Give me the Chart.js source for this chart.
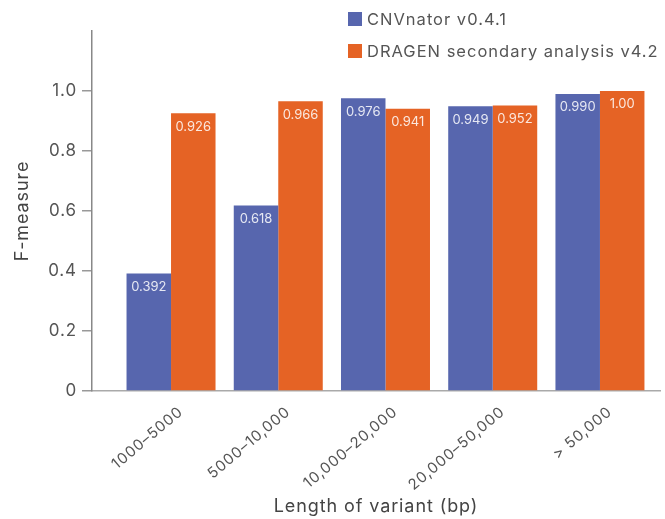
<!DOCTYPE html>
<html>
<head>
<meta charset="utf-8">
<script src="https://cdn.jsdelivr.net/npm/chart.js@4"></script>
<style>
  body { margin: 0; background: #fff; }
  #wrap { position: relative; width: 665px; height: 519px; }
  #legend { position: absolute; left: 348px; top: 5px; font-family: Inter, sans-serif; font-size: 16.5px; letter-spacing: 1px; color: #555; }
  #legend div { display: flex; align-items: center; height: 28px; margin-bottom: 4px; white-space: nowrap; }
  #legend span.box { display: inline-block; width: 14px; height: 14px; margin-right: 5px; }
</style>
</head>
<body>
<div id="wrap">
  <canvas id="fChart" width="665" height="519"></canvas>
  <div id="legend"></div>
</div>
<script>
const categories = ['1000\u20135000', '5000\u201310,000', '10,000\u201320,000', '20,000\u201350,000', '> 50,000'];
const cnvnator = [0.392, 0.618, 0.976, 0.949, 0.990];
const dragen = [0.926, 0.966, 0.941, 0.952, 1.00];
const seriesNames = ['CNVnator v0.4.1', 'DRAGEN secondary analysis v4.2'];
const colors = ['#5766ae', '#e56325'];
const yTicks = [0, 0.2, 0.4, 0.6, 0.8, 1.0];

// html legend, stacked like the reference
const legendEl = document.getElementById('legend');
seriesNames.forEach((name, i) => {
    const row = document.createElement('div');
    row.innerHTML = '<span class="box" style="background:' + colors[i] + '"></span>' + name;
    legendEl.appendChild(row);
});

// the reference type is set a bit looser than plain Inter
const spacing = {
    id: 'spacing',
    beforeLayout(chart) { chart.ctx.letterSpacing = '0.9px'; },
    beforeDraw(chart) { chart.ctx.letterSpacing = '0.9px'; }
};

const barLabels = {
    id: 'barLabels',
    afterDatasetsDraw(chart) {
        const ctx = chart.ctx;
        ctx.save();
        ctx.letterSpacing = '0px';
        ctx.font = '13px Inter, sans-serif';
        ctx.fillStyle = 'rgba(255,255,255,0.85)';
        ctx.textAlign = 'center';
        ctx.textBaseline = 'top';
        chart.data.datasets.forEach((ds, di) => {
            chart.getDatasetMeta(di).data.forEach((bar, i) => {
                const v = ds.data[i].y;
                const txt = v === 1 ? '1.00' : v.toFixed(3);
                ctx.fillText(txt, bar.x, bar.y + 7);
            });
        });
        ctx.restore();
    }
};

const ctx = document.getElementById('fChart').getContext('2d');
const fChart = new Chart(ctx, {
    type: 'bar',
    data: {
        datasets: [{
            label: seriesNames[0],
            data: cnvnator.map((v, i) => ({ x: i, y: v })),
            backgroundColor: colors[0]
        }, {
            label: seriesNames[1],
            data: dragen.map((v, i) => ({ x: i, y: v })),
            backgroundColor: colors[1]
        }]
    },
    options: {
        responsive: false,
        animation: false,
        categoryPercentage: 0.83,
        barPercentage: 1.0,
        layout: { padding: { top: 31, right: 5, left: 8, bottom: 0 } },
        scales: {
            x: {
                type: 'linear',
                offset: false,
                min: -0.737,
                max: 4.56,
                afterBuildTicks: (scale) => {
                    scale.ticks = categories.map((c, i) => ({ value: i }));
                },
                afterFit: (scale) => { scale.height = 128; },
                grid: { display: false, drawTicks: false },
                border: { color: '#aaaaaa', width: 1.5 },
                ticks: {
                    color: '#555555',
                    padding: 12,
                    labelOffset: 10,
                    minRotation: 40,
                    maxRotation: 40,
                    font: { family: 'Inter', size: 15 },
                    callback: (v) => categories[v]
                },
                title: {
                    display: true,
                    text: 'Length of variant (bp)',
                    color: '#444444',
                    padding: { top: 0, bottom: 2 },
                    font: { family: 'Inter', size: 18 }
                }
            },
            y: {
                min: 0,
                max: 1.2,
                afterBuildTicks: (scale) => {
                    scale.ticks = yTicks.map(v => ({ value: v }));
                },
                afterFit: (scale) => { scale.width = 84; },
                grid: {
                    drawOnChartArea: false,
                    drawTicks: true,
                    tickLength: 10,
                    color: '#999999',
                    lineWidth: 1.5
                },
                border: { color: '#888888', width: 1.5 },
                ticks: {
                    color: '#555555',
                    padding: 5,
                    font: { family: 'Inter', size: 17 },
                    callback: (v) => v === 0 ? '0' : v.toFixed(1)
                },
                title: {
                    display: true,
                    text: 'F-measure',
                    color: '#444444',
                    padding: { bottom: 8 },
                    font: { family: 'Inter', size: 18 }
                }
            }
        },
        plugins: {
            legend: { display: false },
            tooltip: { enabled: false }
        }
    },
    plugins: [spacing, barLabels]
});
</script>
</body>
</html>
